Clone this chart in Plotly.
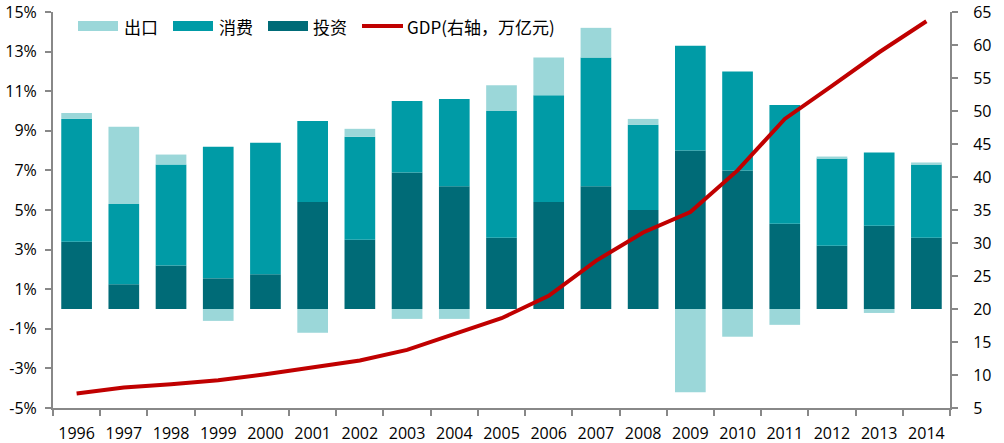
import plotly.graph_objects as go

years = [str(y) for y in range(1996, 2015)]
investment = [3.4, 1.25, 2.2, 1.55, 1.75, 5.4, 3.5, 6.9, 6.2, 3.6, 5.4, 6.2, 5.0, 8.0, 7.0, 4.3, 3.2, 4.2, 3.6]
consumption = [6.2, 4.05, 5.1, 6.65, 6.65, 4.1, 5.2, 3.6, 4.4, 6.4, 5.4, 6.5, 4.3, 5.3, 5.0, 6.0, 4.4, 3.7, 3.7]
exports = [0.3, 3.9, 0.5, -0.6, 0.0, -1.2, 0.4, -0.5, -0.5, 1.3, 1.9, 1.5, 0.3, -4.2, -1.4, -0.8, 0.1, -0.2, 0.1]
gdp = [7.2, 8.1, 8.6, 9.2, 10.1, 11.1, 12.2, 13.8, 16.2, 18.6, 22.0, 27.3, 31.6, 34.7, 41.0, 48.8, 53.8, 58.9, 63.6]

left_ticks = [-5, -3, -1, 1, 3, 5, 7, 9, 11, 13, 15]
left_labels = ["-5%", "-3%", "-1%", "1%", "3%", "5%", "7%", "9%", "11%", "13%", "15%"]
right_ticks = [5, 10, 15, 20, 25, 30, 35, 40, 45, 50, 55, 60, 65]

names = ["出口", "消费", "投资", "GDP(右轴，万亿元)"]
c_exp, c_con, c_inv, c_gdp = "#9BD7D9", "#009BA6", "#006B77", "#C00000"

fig = go.Figure()
fig.add_trace(go.Bar(x=years, y=investment, name=names[2], marker_color=c_inv, marker_line_width=0))
fig.add_trace(go.Bar(x=years, y=consumption, name=names[1], marker_color=c_con, marker_line_width=0))
fig.add_trace(go.Bar(x=years, y=exports, name=names[0], marker_color=c_exp, marker_line_width=0))
fig.add_trace(go.Scatter(x=years, y=gdp, name=names[3], mode="lines",
                         line=dict(color=c_gdp, width=4), yaxis="y2"))

L, R, T, B = 53, 950, 12, 408
W, H = R - L, B - T
def px(x):
    return (x - L) / W
def py(y):
    return (B - y) / H

shapes = []
annotations = []
legend_items = [(78, 118, 122, names[0], c_exp), (173, 213, 217, names[1], c_con), (268, 308, 311, names[2], c_inv)]
for x0, x1, tx, name, col in legend_items:
    shapes.append(dict(type="rect", xref="paper", yref="paper", x0=px(x0), x1=px(x1),
                       y0=py(31), y1=py(21), fillcolor=col, line_width=0, layer="above"))
    annotations.append(dict(xref="paper", yref="paper", x=px(tx), y=py(26), text=name, showarrow=False,
                            xanchor="left", yanchor="middle",
                            font=dict(family="Noto Sans CJK SC", size=17, color="#000")))
shapes.append(dict(type="line", xref="paper", yref="paper", x0=px(362), x1=px(403), y0=py(26), y1=py(26),
                   line=dict(color=c_gdp, width=4), layer="above"))
annotations.append(dict(xref="paper", yref="paper", x=px(405), y=py(26), text=names[3], showarrow=False,
                        xanchor="left", yanchor="middle",
                        font=dict(family="Noto Sans CJK SC", size=17, color="#000")))

axis_common = dict(showgrid=False, zeroline=False, showline=True, linecolor="#888", linewidth=2,
                   ticks="outside", ticklen=6, tickcolor="#888", tickwidth=2,
                   tickfont=dict(size=16), tickangle=0, automargin=False)

fig.update_layout(
    width=1004, height=443,
    margin=dict(l=L, r=1004 - R, t=T, b=443 - B),
    paper_bgcolor="white", plot_bgcolor="white",
    barmode="relative", bargap=0.35,
    showlegend=False,
    font=dict(family="Open Sans", size=16, color="#000"),
    shapes=shapes, annotations=annotations,
    xaxis=dict(type="category", tickson="boundaries", ticklabelstandoff=10, **axis_common),
    yaxis=dict(range=[-5, 15], tickvals=left_ticks, ticktext=left_labels, ticklabelstandoff=5, **axis_common),
    yaxis2=dict(range=[5, 65], tickvals=right_ticks, overlaying="y", side="right",
                ticklabelstandoff=12, **axis_common),
)

fig.write_html("out.html")
